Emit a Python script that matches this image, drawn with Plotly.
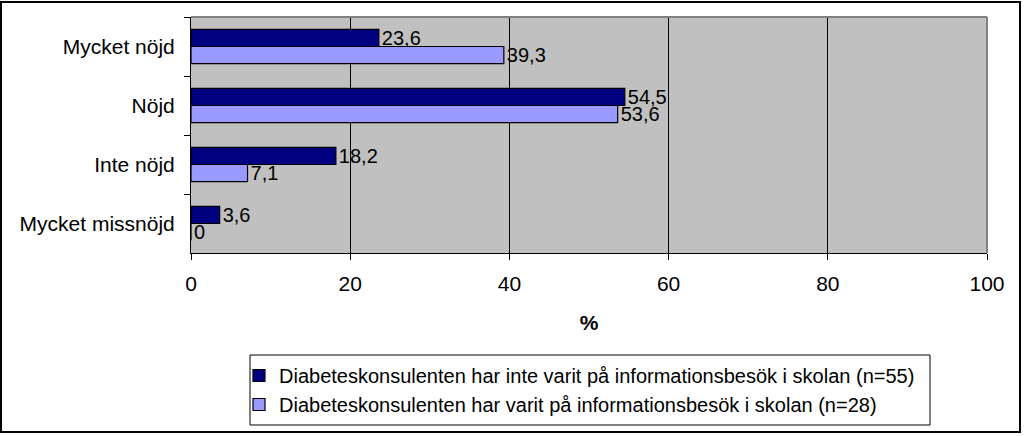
import plotly.graph_objects as go

categories = ["Mycket nöjd", "Nöjd", "Inte nöjd", "Mycket missnöjd"]
series_names = [
    "Diabeteskonsulenten har inte varit på informationsbesök i skolan (n=55)",
    "Diabeteskonsulenten har varit på informationsbesök i skolan (n=28)",
]
values_not_visited = [23.6, 54.5, 18.2, 3.6]
values_visited = [39.3, 53.6, 7.1, 0]
x_ticks = [0, 20, 40, 60, 80, 100]

colors = ["#000080", "#9999FF"]
W, H = 1024, 436
L, R, T, B = 191, 987, 17, 253
FS = 21

def fmt(v):
    return (f"{v:g}").replace(".", ",")

def px_x(p):
    return (p - L) / (R - L)

def px_y(p):
    return (B - p) / (B - T)

fig = go.Figure()
for name, vals, col in zip(series_names, [values_not_visited, values_visited], colors):
    fig.add_trace(go.Bar(
        y=categories, x=vals, name=name, orientation="h",
        marker=dict(color=col, line=dict(color="black", width=1.2)),
        text=[fmt(v) for v in vals], textposition="outside",
        textfont=dict(family="Arial, Liberation Sans", size=FS - 1, color="black"),
        constraintext="none",
        cliponaxis=False,
    ))

fig.update_layout(
    width=W, height=H,
    margin=dict(l=L, r=W - R, t=T, b=H - B, pad=0),
    barmode="group", bargap=0.42, bargroupgap=0,
    plot_bgcolor="#C0C0C0", paper_bgcolor="white",
    font=dict(family="Arial, Liberation Sans", size=FS, color="black"),
    showlegend=True,
    legend=dict(
        x=px_x(239), xanchor="left",
        y=px_y(356), yanchor="top",
        borderwidth=0, bgcolor="rgba(0,0,0,0)",
        font=dict(size=20), traceorder="normal",
        tracegroupgap=0, itemwidth=30,
    ),
    xaxis=dict(
        range=[0, 100], tickvals=x_ticks, ticks="outside", ticklen=6,
        tickcolor="black", showline=True, linecolor="black", linewidth=1,
        showgrid=True, gridcolor="black", gridwidth=1, zeroline=False,
        title=dict(text="<b>%</b>", standoff=21, font=dict(size=FS)),
        tickfont=dict(size=FS), ticklabelstandoff=6,
    ),
    yaxis=dict(
        autorange="reversed", tickson="boundaries", ticks="outside", ticklen=6,
        tickcolor="black", showline=True, linecolor="black", linewidth=1,
        showgrid=False, tickfont=dict(size=FS), ticklabelstandoff=11,
    ),
    shapes=[
        dict(type="line", xref="paper", yref="paper", x0=0, x1=1, y0=1, y1=1,
             line=dict(color="#808080", width=2)),
        dict(type="line", xref="paper", yref="paper", x0=1, x1=1, y0=0, y1=1,
             line=dict(color="#808080", width=2)),
        # legend box
        dict(type="rect", xref="paper", yref="paper",
             x0=px_x(250), x1=px_x(930), y0=px_y(425), y1=px_y(355),
             line=dict(color="black", width=1), fillcolor="rgba(0,0,0,0)"),
        # outer frame
        dict(type="rect", xref="paper", yref="paper",
             x0=px_x(1), x1=px_x(1020), y0=px_y(432), y1=px_y(2),
             line=dict(color="black", width=2), fillcolor="rgba(0,0,0,0)", layer="above"),
    ],
)

fig.write_html("out.html")
